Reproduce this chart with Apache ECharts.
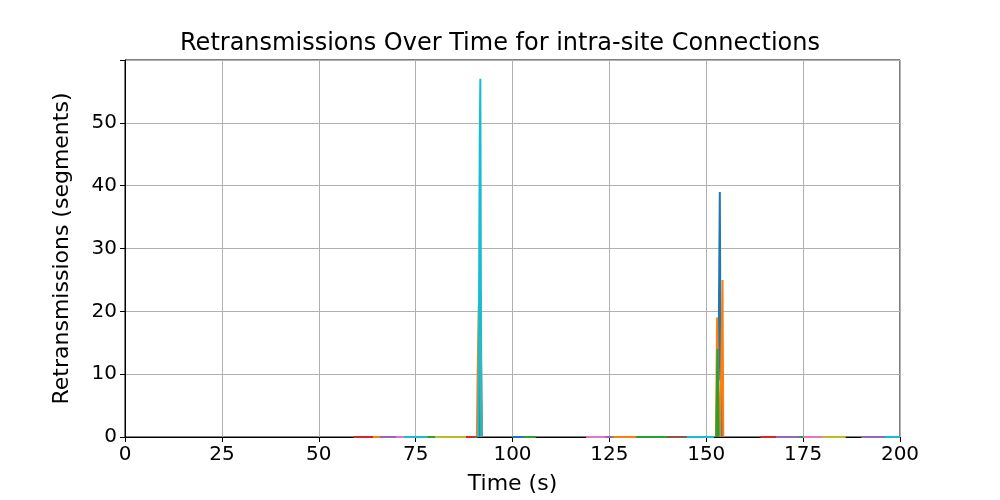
<!DOCTYPE html>
<html><head><meta charset="utf-8">
<script src="https://cdn.jsdelivr.net/npm/echarts@6/dist/echarts.min.js"></script>
<style>html,body{margin:0;padding:0;background:#fff}#c{width:1000px;height:500px}</style>
</head><body><div id="c"></div>
<script>
const xTicks = [0, 25, 50, 75, 100, 125, 150, 175, 200];
const colors = ['#1f77b4','#ff7f0e','#2ca02c','#d62728','#9467bd','#8c564b','#e377c2','#7f7f7f','#bcbd22','#17becf'];
const connBlue   = [[100,0],[104,0],[null,null],[91.6,0],[91.75,23],[91.9,11],[92.1,0],[null,null],[153.0,0],[153.2,14],[153.5,39],[153.7,9],[153.9,13],[154.1,0]];
const connOrange = [[62,0],[66,0],[76,0],[82,0],[125,0],[132,0],[null,null],[90.8,0],[91.0,10],[91.3,21],[91.55,17],[91.8,9],[92.0,0],[null,null],[152.5,0],[152.8,19],[153.1,9],[153.6,0],[153.9,12],[154.2,25],[154.4,0]];
const connGreen  = [[78,0],[84,0],[103,0],[106,0],[132,0],[140,0],[172,0],[180,0],[null,null],[152.6,0],[152.9,14],[153.2,0]];
const connRed    = [[59,0],[64,0],[84,0],[90,0],[164,0],[168,0]];
const connPurple = [[66,0],[72,0],[120,0],[126,0],[168,0],[174,0],[190,0],[196,0]];
const connBrown  = [[90,0],[91,0],[140,0],[146,0]];
const connPink   = [[70,0],[75,0],[119,0],[124,0],[175,0],[182,0]];
const connGray   = [[146,0],[150,0]];
const connOlive  = [[80,0],[88,0],[180,0],[186,0]];
const connCyan   = [[72,0],[78,0],[145,0],[152,0],[196,0],[200,0],[null,null],[91.2,0],[91.4,27],[91.55,48],[91.7,57],[91.85,23],[92.0,0]];
const seriesData = [connBlue,connOrange,connGreen,connRed,connPurple,connBrown,connPink,connGray,connOlive,connCyan];
function pieces(arr){const out=[];let cur=[];for(const p of arr){if(p[0]===null){if(cur.length)out.push(cur);cur=[];}else cur.push(p);}if(cur.length)out.push(cur);return out;}
const series=[];
seriesData.forEach((d,i)=>{
  const segs=[];
  pieces(d).forEach(pc=>{ if(pc.every(p=>p[1]===0)){for(let k=0;k<pc.length;k+=2)segs.push(pc.slice(k,k+2));} else segs.push(pc);});
  segs.forEach(s=>series.push({type:'line',data:s,showSymbol:false,symbol:'none',lineStyle:{color:colors[i],width:2},itemStyle:{color:colors[i]},animation:false}));
});
const chart=echarts.init(document.getElementById('c'));
chart.setOption({
  backgroundColor:'#fff',
  title:{text:'Retransmissions Over Time for intra-site Connections',left:'center',top:27,textStyle:{fontFamily:'DejaVu Sans',fontSize:24,fontWeight:'normal',color:'#000'}},
  grid:{left:125,right:100,top:60,bottom:55,show:true,borderColor:'#000',borderWidth:1},
  xAxis:{type:'value',min:0,max:200,interval:25,name:'Time (s)',nameLocation:'middle',nameGap:36,
    nameTextStyle:{fontFamily:'DejaVu Sans',fontSize:22,color:'#000'},
    axisLine:{lineStyle:{color:'#000'}},axisTick:{show:true,length:5,lineStyle:{color:'#000'}},
    axisLabel:{fontFamily:'DejaVu Sans',fontSize:20,color:'#000',margin:8},
    splitLine:{show:true,lineStyle:{color:'#b0b0b0',width:1}}},
  yAxis:{type:'value',min:0,max:60,interval:10,name:'Retransmissions (segments)',nameLocation:'middle',nameGap:52,
    nameTextStyle:{fontFamily:'DejaVu Sans',fontSize:22,color:'#000'},
    axisLine:{show:true,lineStyle:{color:'#000'}},axisTick:{show:true,length:5,lineStyle:{color:'#000'}},
    axisLabel:{fontFamily:'DejaVu Sans',fontSize:20,color:'#000',formatter:v=>v>=60?'':v},
    splitLine:{show:true,lineStyle:{color:'#b0b0b0',width:1}}},
  series:series
});
</script></body></html>
